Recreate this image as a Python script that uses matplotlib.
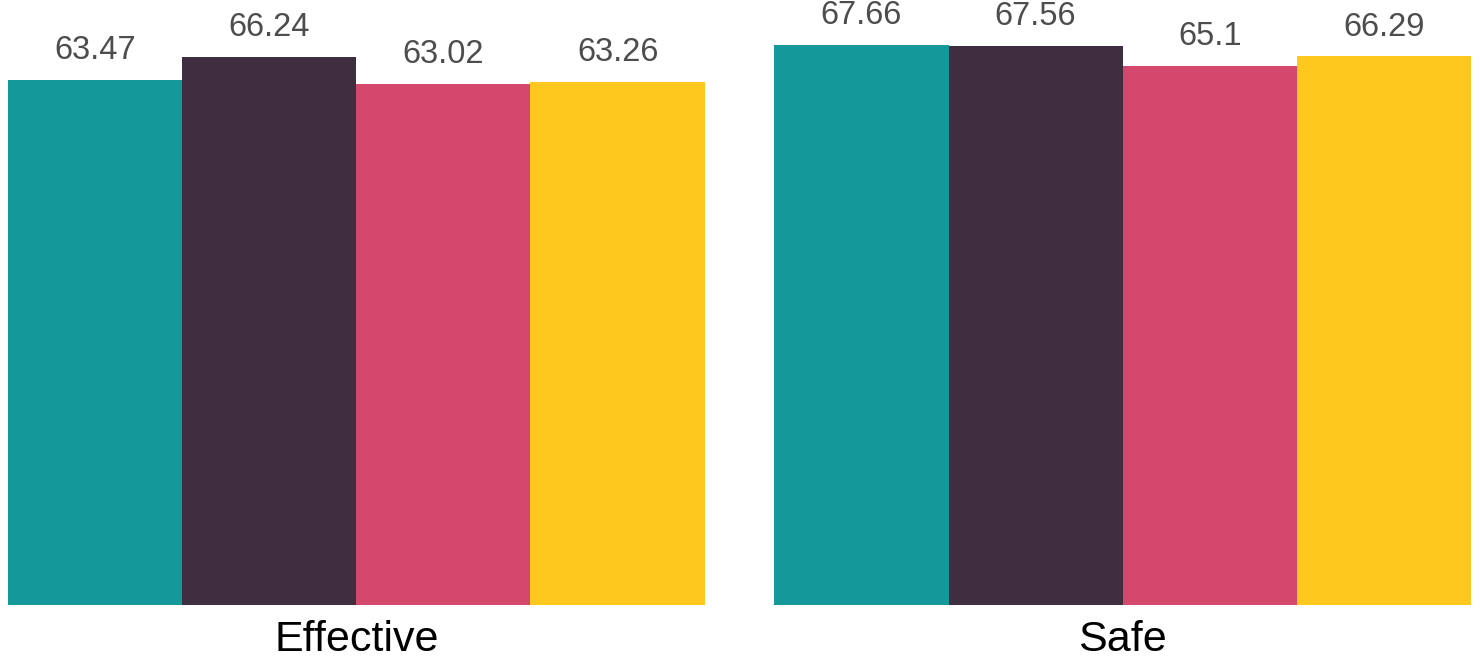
import numpy as np
import matplotlib.pyplot as plt

# Values
groups = ["Effective", "Safe"]
effective = [63.47, 66.24, 63.02, 63.26]
safe = [67.66, 67.56, 65.1, 66.29]
colors = ["#14989A", "#3F2E3F", "#D5486D", "#FEC81E"]

plt.rcParams["font.family"] = ["Liberation Sans", "DejaVu Sans"]

fig = plt.figure(figsize=(14.8, 6.61), dpi=100)
ax = fig.add_axes([0, 1 - 604.7 / 661, 1, 604.7 / 661])

gap = 0.4
group_centers = []
for g, values in enumerate([effective, safe]):
    offset = g * (4 + gap)
    x = np.arange(4) + offset
    bars = ax.bar(x, values, width=1.0, color=colors)
    for b, v in zip(bars, values):
        ax.annotate(f"{v:g}", (b.get_x() + b.get_width() / 2, v),
                    xytext=(0, 10), textcoords="offset points",
                    ha="center", va="bottom", fontsize=23.5, color="#4D4D4D",
                    annotation_clip=False)
    group_centers.append(offset + 1.5)

ax.set_xlim(-0.5 - 8 / 174.2, 3.5 + 4 + gap + 9 / 174.2)
ax.set_ylim(0, 604.7 / 8.27)
ax.set_xticks(group_centers)
ax.set_xticklabels(groups, fontsize=31, color="black")
ax.tick_params(axis="x", length=0, pad=11)
ax.set_yticks([])
for s in ax.spines.values():
    s.set_visible(False)

fig.savefig("out.png", dpi=100)
